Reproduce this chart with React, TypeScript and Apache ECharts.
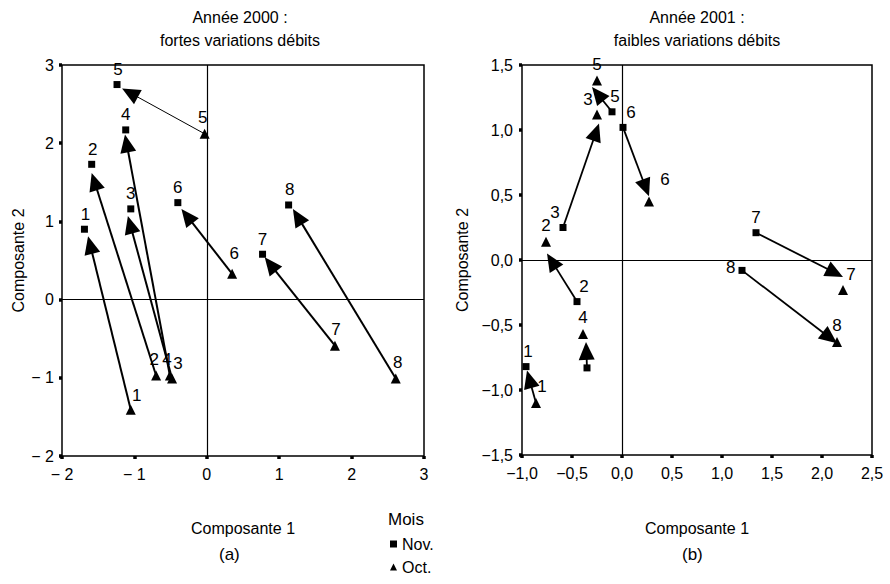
import React, { useEffect, useRef } from "react";
import * as echarts from "echarts";

// ---------- DATA ----------
const months = ["1", "2", "3", "4", "5", "6", "7", "8"];

// Année 2000 (a)
const novA: number[][] = [
  [-1.69, 0.9], [-1.59, 1.73], [-1.05, 1.16], [-1.12, 2.17],
  [-1.24, 2.75], [-0.4, 1.24], [0.77, 0.58], [1.13, 1.21],
];
const octA: number[][] = [
  [-1.05, -1.41], [-0.7, -0.97], [-0.48, -1.01], [-0.51, -0.97],
  [-0.03, 2.12], [0.35, 0.33], [1.77, -0.59], [2.61, -1.01],
];
// arrow tips (arrows go from Oct to Nov)
const tipA: number[][] = [
  [-1.64, 0.81], [-1.59, 1.62], [-1.09, 1.07], [-1.13, 2.11],
  [-1.17, 2.7], [-0.35, 1.16], [0.8, 0.54], [1.19, 1.16],
];

// Année 2001 (b)
const novB: number[][] = [
  [-0.96, -0.82], [-0.45, -0.32], [-0.59, 0.25], [-0.35, -0.83],
  [-0.1, 1.14], [0.01, 1.02], [1.34, 0.21], [1.2, -0.08],
];
const octB: number[][] = [
  [-0.86, -1.1], [-0.76, 0.14], [-0.25, 1.12], [-0.39, -0.57],
  [-0.25, 1.38], [0.27, 0.45], [2.21, -0.23], [2.15, -0.63],
];
const arrowFromB = ["oct", "nov", "nov", "nov", "nov", "nov", "nov", "nov"];
const tipB: number[][] = [
  [-0.95, -0.85], [-0.75, 0.05], [-0.23, 1.05], [-0.36, -0.63],
  [-0.3, 1.33], [0.27, 0.49], [2.21, -0.13], [2.15, -0.64],
];

const xTicksA = ["− 2", "− 1", "0", "1", "2", "3"];
const yTicksA = ["− 2", "− 1", "0", "1", "2", "3"];
const xTicksB = ["−1,0", "−0,5", "0,0", "0,5", "1,0", "1,5", "2,0", "2,5"];
const yTicksB = ["−1,5", "−1,0", "−0,5", "0,0", "0,5", "1,0", "1,5"];

// ---------- STYLE ----------
const FONT = "'Liberation Sans', Arial, Helvetica, sans-serif";
const arrowWidthA = [2, 2, 2, 2, 1, 2, 2, 2];
const arrowWidthB = [1.8, 1.8, 1.8, 1.8, 1.8, 1.8, 1.8, 1.8];

type Lab = { off: number[]; pos?: string; hide?: boolean };
const labNovA: Lab[] = [
  { off: [1, 0] }, { off: [1, 0] }, { off: [0, 0] }, { off: [0, 0] },
  { off: [1, 0] }, { off: [0, 0] }, { off: [0, 0] }, { off: [1, 0] },
];
const labOctA: Lab[] = [
  { off: [6, 2] }, { off: [-2, 1] }, { off: [6, 1] }, { off: [-3, 1] },
  { off: [-2, 0] }, { off: [2, -4] }, { off: [1, 0] }, { off: [2, 0] },
];
const labNovB: Lab[] = [
  { off: [2, 0] }, { off: [7, 0] }, { off: [-8, 0] }, { off: [0, 0], hide: true },
  { off: [3, 0] }, { off: [8, 0] }, { off: [0, 0] }, { off: [0, -3], pos: "left" },
];
const labOctB: Lab[] = [
  { off: [6, 0] }, { off: [0, 0] }, { off: [-9, 2] }, { off: [0, 0] },
  { off: [0, 0] }, { off: [16, -6] }, { off: [8, 1] }, { off: [0, 0] },
];

function renderArrow(_params: any, api: any) {
  const p1 = api.coord([api.value(0), api.value(1)]);
  const p2 = api.coord([api.value(2), api.value(3)]);
  const w = api.value(4);
  const dx = p2[0] - p1[0];
  const dy = p2[1] - p1[1];
  const len = Math.hypot(dx, dy) || 1;
  const ux = dx / len;
  const uy = dy / len;
  const L = 18;
  const H = 8;
  const bx = p2[0] - ux * L;
  const by = p2[1] - uy * L;
  const px = -uy;
  const py = ux;
  return {
    type: "group",
    children: [
      {
        type: "line",
        shape: { x1: p1[0], y1: p1[1], x2: bx + ux * 4, y2: by + uy * 4 },
        style: { stroke: "#000", lineWidth: w },
      },
      {
        type: "polygon",
        shape: {
          points: [
            [p2[0], p2[1]],
            [bx + px * H, by + py * H],
            [bx - px * H, by - py * H],
          ],
        },
        style: { fill: "#000" },
      },
    ],
  };
}

function pointData(pts: number[][], labs: Lab[]) {
  return pts.map((p, i) => ({
    value: [p[0], p[1], i],
    label: {
      show: !labs[i].hide,
      position: labs[i].pos || "top",
      offset: labs[i].off,
      distance: 3,
    },
  }));
}

function axisCommon(min: number, max: number, interval: number, labels: string[], margin: number) {
  return {
    type: "value",
    min,
    max,
    interval,
    splitLine: { show: false },
    axisLine: { show: false, onZero: false },
    axisTick: { show: true, length: 3, lineStyle: { color: "#000", width: 3.5 } },
    axisLabel: {
      color: "#000",
      fontSize: 16,
      fontFamily: FONT,
      margin,
      formatter: (_v: number, idx: number) => labels[idx] ?? "",
    },
    nameTextStyle: { color: "#000", fontSize: 16, fontFamily: FONT },
  };
}

const crossLines = {
  silent: true,
  symbol: ["none", "none"],
  label: { show: false },
  lineStyle: { color: "#000", width: 1.2, type: "solid", opacity: 1 },
  data: [{ xAxis: 0 }, { yAxis: 0 }],
};

export default function App() {
  const ref = useRef<HTMLDivElement>(null);
  useEffect(() => {
    if (!ref.current) return;
    const chart = echarts.init(ref.current, null, { renderer: "svg" });

    const arrowsA = octA.map((o, i) => [o[0], o[1], tipA[i][0], tipA[i][1], arrowWidthA[i]]);
    const arrowsB = novB.map((n, i) => {
      const s = arrowFromB[i] === "oct" ? octB[i] : n;
      return [s[0], s[1], tipB[i][0], tipB[i][1], arrowWidthB[i]];
    });

    const labelStyle = {
      color: "#000",
      fontSize: 17,
      fontFamily: FONT,
      formatter: (p: any) => months[p.value[2]],
    };
    const pointStyle = { color: "#000", opacity: 1 };

    const titleStyle = { fontSize: 16, fontWeight: "normal", color: "#000", fontFamily: FONT, lineHeight: 23 };

    const option: any = {
      animation: false,
      backgroundColor: "#fff",
      textStyle: { fontFamily: FONT },
      title: [
        { text: "Année 2000 :\nfortes variations débits", left: 235, top: 1, textAlign: "center", textStyle: titleStyle },
        { text: "Année 2001 :\nfaibles variations débits", left: 692, top: 1, textAlign: "center", textStyle: titleStyle },
      ],
      grid: [
        { left: 62, top: 65, width: 362, height: 391, show: true, borderColor: "#000", borderWidth: 1.5, backgroundColor: "transparent" },
        { left: 522, top: 65, width: 350, height: 390, show: true, borderColor: "#000", borderWidth: 1.5, backgroundColor: "transparent" },
      ],
      xAxis: [
        { ...axisCommon(-2, 3, 1, xTicksA, 10), gridIndex: 0, name: "Composante 1", nameLocation: "middle", nameGap: 64 },
        { ...axisCommon(-1, 2.5, 0.5, xTicksB, 10), gridIndex: 1, name: "Composante 1", nameLocation: "middle", nameGap: 65 },
      ],
      yAxis: [
        { ...axisCommon(-2, 3, 1, yTicksA, 8), gridIndex: 0, name: "Composante 2", nameLocation: "middle", nameGap: 36, nameRotate: 90 },
        { ...axisCommon(-1.5, 1.5, 0.5, yTicksB, 9), gridIndex: 1, name: "Composante 2", nameLocation: "middle", nameGap: 52, nameRotate: 90 },
      ],
      legend: {
        orient: "vertical",
        left: 390,
        top: 536,
        padding: 0,
        itemWidth: 7,
        itemHeight: 7,
        itemGap: 7,
        selectedMode: false,
        textStyle: { color: "#000", fontSize: 16, fontFamily: FONT },
        data: [
          { name: "Nov.", icon: "rect" },
          { name: "Oct.", icon: "triangle" },
        ],
      },
      graphic: [
        { type: "text", left: 388, top: 511, style: { text: "Mois", fontSize: 17, fontFamily: FONT, fill: "#000" } },
        { type: "text", left: 219, top: 546, style: { text: "(a)", fontSize: 17, fontFamily: FONT, fill: "#000" } },
        { type: "text", left: 682, top: 546, style: { text: "(b)", fontSize: 17, fontFamily: FONT, fill: "#000" } },
      ],
      series: [
        {
          type: "custom", name: "arrowsA", xAxisIndex: 0, yAxisIndex: 0,
          renderItem: renderArrow, encode: { x: [0, 2], y: [1, 3] },
          data: arrowsA, silent: true, z: 3, markLine: crossLines,
        },
        {
          type: "custom", name: "arrowsB", xAxisIndex: 1, yAxisIndex: 1,
          renderItem: renderArrow, encode: { x: [0, 2], y: [1, 3] },
          data: arrowsB, silent: true, z: 3, markLine: crossLines,
        },
        {
          type: "scatter", name: "Nov.", xAxisIndex: 0, yAxisIndex: 0,
          symbol: "rect", symbolSize: 7, itemStyle: pointStyle,
          label: labelStyle, data: pointData(novA, labNovA), z: 4,
        },
        {
          type: "scatter", name: "Oct.", xAxisIndex: 0, yAxisIndex: 0,
          symbol: "triangle", symbolSize: 10, itemStyle: pointStyle,
          label: labelStyle, data: pointData(octA, labOctA), z: 4,
        },
        {
          type: "scatter", name: "Nov.", xAxisIndex: 1, yAxisIndex: 1,
          symbol: "rect", symbolSize: 7, itemStyle: pointStyle,
          label: labelStyle, data: pointData(novB, labNovB), z: 4,
        },
        {
          type: "scatter", name: "Oct.", xAxisIndex: 1, yAxisIndex: 1,
          symbol: "triangle", symbolSize: 10, itemStyle: pointStyle,
          label: labelStyle, data: pointData(octB, labOctB), z: 4,
        },
      ],
    };
    chart.setOption(option);
    return () => chart.dispose();
  }, []);

  return (
    <div
      ref={ref}
      style={{ position: "fixed", left: 0, top: 0, width: 890, height: 584, background: "#fff" }}
    />
  );
}
